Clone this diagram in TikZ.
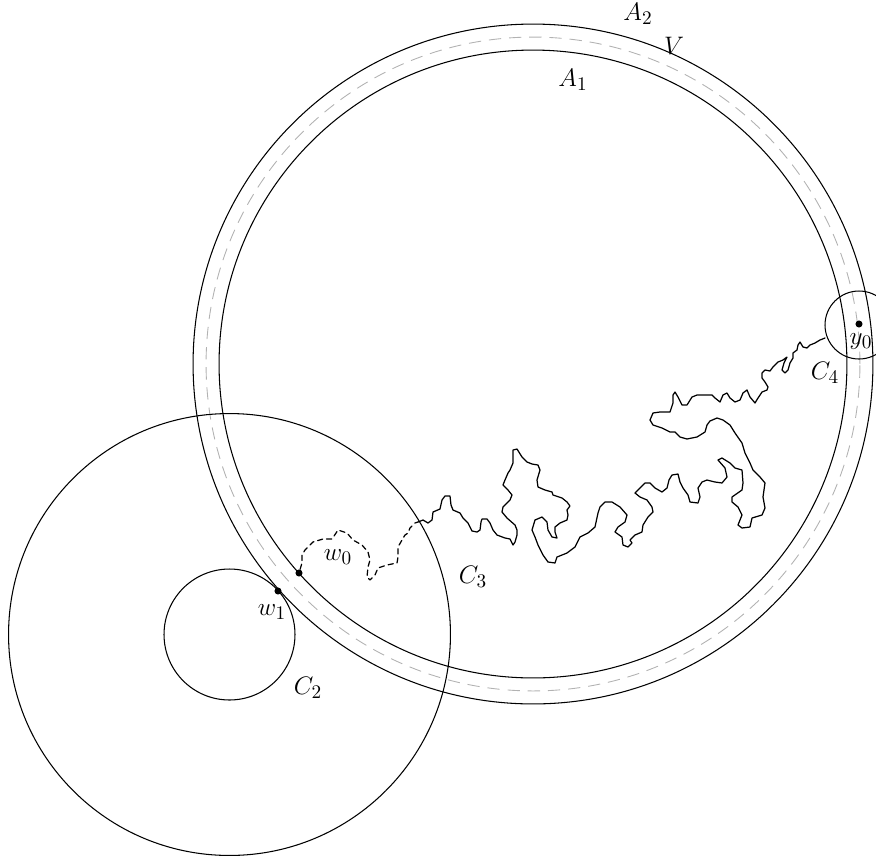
\documentclass[tikz,border=0pt]{standalone}
\begin{document}
\begin{tikzpicture}[x=0.02cm,y=-0.02cm,
  ring/.style={circle,draw,inner sep=0pt,line width=0.6pt},
  vring/.style={circle,draw=gray!60,dash pattern=on 7pt off 4.5pt,inner sep=0pt,line width=0.5pt},
  dotpt/.style={circle,fill,inner sep=0pt,minimum size=4pt},
  lbl/.style={font=\fontsize{15}{18}\selectfont},
  walk/.style={line width=0.7pt,line join=round,line cap=round},
  walkd/.style={walk,dash pattern=on 3pt off 2.2pt}]
\useasboundingbox (0,0) rectangle (876,860);
% annulus circles
\node[ring,minimum size=13.6cm] (A2c) at (533,364) {};
\node[vring,minimum size=13.08cm] (Vc) at (533,364) {};
\node[ring,minimum size=12.56cm] (A1c) at (533,364) {};
% C2, C3, C4
\node[ring,minimum size=2.62cm] (C2c) at (229.5,634.5) {};
\node[ring,minimum size=8.84cm] (C3c) at (229.5,634.5) {};
\node[ring,minimum size=1.36cm] (C4c) at (859,325) {};
% points
\node[dotpt] (w0) at (299,573) {};
\node[dotpt] (w1) at (278,591) {};
\node[dotpt] (y0) at (859,324) {};
\coordinate (wcross) at (418,522);
\coordinate (wend) at (825,338);
% labels
\node[lbl] (lA2) at (638,14) {$A_2$};
\node[lbl] (lV) at (674,46) {$V$};
\node[lbl] (lA1) at (573,80) {$A_1$};
\node[lbl] (ly0) at (861,342) {$y_0$};
\node[lbl] (lC4) at (825,373) {$C_4$};
\node[lbl] (lC3) at (473,577) {$C_3$};
\node[lbl] (lw0) at (338,557) {$w_0$};
\node[lbl] (lw1) at (272,612) {$w_1$};
\node[lbl] (lC2) at (308,688) {$C_2$};
% dashed part of the walk
\draw[walkd] (w0) -- (302,563) -- (302,555) -- (305,550) -- (313,542) -- (323,539) -- (332,539) -- (338,530) -- (347,533) -- (353,540) -- (362,545) -- (368,552) -- (370,560) -- (368,567) -- (367,577) -- (370,580) -- (375,575) -- (378,568) -- (387,565) -- (397,563) -- (398,557) -- (398,547) -- (402,540) -- (405,535) -- (408,533) -- (410,528) -- (415,523) -- (wcross);
% solid part of the walk
\draw[walk] (wcross) -- (423,520) -- (428,523) -- (432,520) -- (433,512) -- (440,509) -- (442,500) -- (445,496) -- (450,496) -- (451,505) -- (453,510) -- (460,513) -- (463,518) -- (468,523) -- (472,531) -- (477,532) -- (480,530) -- (481,522) -- (482,519) -- (487,519) -- (490,523) -- (493,530) -- (497,535) -- (505,538) -- (510,539) -- (513,545) -- (515,542) -- (517,535) -- (517,530) -- (515,525) -- (507,518) -- (502,512) -- (503,507) -- (510,500) -- (512,495) -- (508,490) -- (503,485) -- (505,480) -- (508,473) -- (510,470) -- (513,463) -- (513,450) -- (517,449) -- (522,457) -- (527,462) -- (532,464) -- (538,465) -- (540,470) -- (537,480) -- (538,487) -- (545,490) -- (552,492) -- (553,495) -- (562,498) -- (567,502) -- (570,506) -- (567,510) -- (568,515) -- (567,520) -- (560,523) -- (555,527) -- (555,532) -- (557,538) -- (552,537) -- (548,530) -- (547,522) -- (542,517) -- (535,520) -- (532,530) -- (535,537) -- (538,545) -- (543,555) -- (548,562) -- (555,563) -- (557,557) -- (567,553) -- (575,547) -- (580,537) -- (588,533) -- (595,527) -- (598,513) -- (600,507) -- (605,502) -- (612,502) -- (620,507) -- (627,515) -- (625,522) -- (618,527) -- (615,532) -- (622,537) -- (623,545) -- (628,547) -- (632,543) -- (630,540) -- (635,535) -- (642,532) -- (643,525) -- (648,517) -- (653,512) -- (652,507) -- (647,500) -- (640,497) -- (635,493) -- (640,488) -- (645,483) -- (650,483) -- (655,488) -- (662,492) -- (667,488) -- (669,480) -- (672,475) -- (678,474) -- (680,482) -- (683,488) -- (688,495) -- (690,502) -- (698,503) -- (700,497) -- (698,488) -- (702,482) -- (707,480) -- (715,482) -- (722,483) -- (727,477) -- (725,468) -- (718,460) -- (722,458) -- (730,463) -- (735,468) -- (742,470) -- (743,483) -- (742,490) -- (732,497) -- (732,502) -- (738,507) -- (742,515) -- (738,525) -- (742,528) -- (750,527) -- (752,518) -- (762,515) -- (765,508) -- (763,497) -- (765,483) -- (760,477) -- (753,470) -- (750,463) -- (745,453) -- (742,443) -- (735,433) -- (730,425) -- (723,420) -- (717,418) -- (710,421) -- (707,425) -- (705,432) -- (697,437) -- (687,439) -- (680,437) -- (675,432) -- (670,432) -- (662,428) -- (653,425) -- (650,420) -- (653,413) -- (660,412) -- (670,412) -- (673,403) -- (673,395) -- (675,392) -- (678,397) -- (682,405) -- (687,405) -- (692,397) -- (697,395) -- (712,395) -- (715,398) -- (720,402) -- (723,395) -- (727,393) -- (730,398) -- (735,402) -- (740,400) -- (743,393) -- (747,390) -- (750,397) -- (755,403) -- (758,398) -- (762,392) -- (767,390) -- (768,387) -- (765,382) -- (762,378) -- (762,373) -- (765,370) -- (770,371) -- (773,367) -- (778,362) -- (783,360) -- (787,357) -- (784,363) -- (782,370) -- (785,373) -- (788,370) -- (790,363) -- (793,358) -- (793,353) -- (797,350) -- (798,345) -- (800,342) -- (803,347) -- (807,348) -- (810,345) -- (815,343) -- (820,340) -- (wend);
\end{tikzpicture}
\end{document}
